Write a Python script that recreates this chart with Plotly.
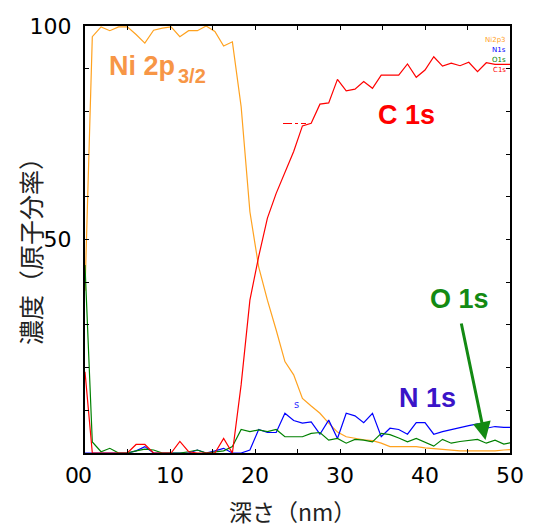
import plotly.graph_objects as go

depth = [0, 0.86, 1.89, 2.92, 3.95, 4.98, 6.01, 7.04, 8.07, 9.10, 10.13, 11.16, 12.19,
         13.22, 14.25, 15.28, 16.31, 17.34, 18.37, 19.40, 20.43, 21.46, 22.49, 23.52,
         24.55, 25.58, 26.61, 27.64, 28.67, 29.70, 30.73, 31.76, 32.79, 33.82, 34.85,
         35.88, 36.91, 37.94, 38.97, 40.00, 41.03, 42.06, 43.09, 44.12, 45.15, 46.18,
         47.21, 48.24, 49.27, 50.30]

ni2p3 = [38, 97.5, 99.8, 98.9, 99.8, 99.8, 98, 96, 99, 99.5, 99.8, 97.5, 98.9, 98.9, 100,
         98.7, 95.3, 96.3, 81.1, 56.5, 43.6, 35.8, 28.8, 21.4, 18.3, 12.8, 11, 9.3, 7.0,
         4.9, 3.8, 3.4, 3.1, 2.9, 2.3, 1.5, 1.5, 1.5, 1.5, 1.2, 1.0, 0.8, 0.7, 0.5, 0.5,
         0.5, 0.5, 0.5, 0.7, 0.8]

n1s = [0, 0, 0, 0, 0, 0, 0.5, 1.5, 0, 0, 0, 0, 0, 0.7, 0, 0.5, 1.1, 0, 0, 0.7, 5.5, 4.8,
       4.8, 9.3, 7.6, 7.0, 7.3, 4.4, 7.7, 3.4, 9.3, 8.7, 7.1, 9.3, 3.8, 5.8, 5.5, 4.4, 7.1,
       7.1, 4.4, 5.0, 5.5, 6.0, 6.4, 6.8, 5.8, 6.2, 6.0, 6.0]

o1s = [44, 2.6, 0.3, 1.1, 0, 0, 0.5, 0.9, 0.7, 0, 0, 0, 0.3, 0.7, 0, 0.3, 0.5, 1.5, 5.5,
       5.0, 5.4, 5.0, 5.5, 3.8, 3.8, 3.8, 4.6, 4.8, 3.0, 3.4, 2.3, 3.2, 3.0, 2.6, 4.6, 4.3,
       3.5, 2.6, 3.4, 2.5, 1.6, 3.2, 2.3, 2.7, 3.0, 3.2, 2.3, 3.0, 2.1, 2.5]

c1s = [19, 0, 0, 0, 0, 0, 2, 2, 0, 0, 0, 2.7, 0.3, 0, 0, 0, 3.4, 0, 16, 35.8, 46, 55, 60.8,
       65.5, 70.6, 76.6, 77.2, 81.7, 82, 87.5, 84.8, 85.2, 87, 85.4, 88.5, 88.5, 88.5,
       91.1, 88, 89.7, 92.8, 90.6, 91.3, 90.7, 91.5, 89.3, 91.4, 91, 91, 91]

series_names = ["Ni2p3", "N1s", "O1s", "C1s"]
series_vals = [ni2p3, n1s, o1s, c1s]
series_cols = ["#FFA21F", "#0000FF", "#008000", "#FF0000"]

x_ticks = [0, 10, 20, 30, 40, 50]
y_ticks = [50, 100]

# page has an 8px body margin: figure origin is at screen (8, 8)
OFF = 8
W, H = 525, 521
ML, MT = 85 - OFF, 26 - OFF
PR, PB = 510 - OFF, 453 - OFF
MR, MB = W - PR, H - PB
PW, PH = PR - ML, PB - MT


def px(xs):
    return (xs - OFF - ML) / PW


def py(ys):
    return (PB - (ys - OFF)) / PH


fig = go.Figure()
for name, vals, col in zip(series_names, series_vals, series_cols):
    fig.add_trace(go.Scatter(x=depth, y=vals, mode="lines", name=name,
                             line=dict(color=col, width=1.2), showlegend=False))

tickfont = dict(family="DejaVu Sans", size=22, color="black")
cjk = "Noto Sans CJK JP"
boldf = "Liberation Sans"

fig.update_layout(
    width=W, height=H,
    margin=dict(l=ML, r=MR, t=MT, b=MB),
    paper_bgcolor="white", plot_bgcolor="white",
    xaxis=dict(range=[0, 50], tickvals=x_ticks, ticks="inside", ticklen=4,
               tickcolor="black", showline=True, linecolor="black", linewidth=2,
               mirror="ticks", showgrid=False, zeroline=False, tickfont=tickfont,
               minor=dict(dtick=5, ticks="inside", ticklen=4, tickcolor="black"),
               ticklabelstandoff=2, automargin=False),
    yaxis=dict(range=[0, 100], tickvals=y_ticks, ticks="inside", ticklen=4,
               tickcolor="black", showline=True, linecolor="black", linewidth=2,
               mirror="ticks", showgrid=False, zeroline=False, tickfont=tickfont,
               minor=dict(dtick=10, ticks="inside", ticklen=4, tickcolor="black"),
               ticklabelstandoff=7, automargin=False),
)


def label(xs, ys, text, font, xanchor="center", **kw):
    fig.add_annotation(x=px(xs), y=py(ys), xref="paper", yref="paper", text=text,
                       showarrow=False, xanchor=xanchor, yanchor="middle",
                       font=font, **kw)


# axis titles
label(292, 511, "深さ（nm）", dict(family=cjk, size=23, color="#222"), borderpad=0)
label(30, 245, "濃度（原子分率）", dict(family=cjk, size=25, color="#222"), textangle=-90)

# extra "0" of the y axis (shown under the corner)
label(72, 475, "0", tickfont)

# labels
label(107, 66, "Ni 2p", dict(family=boldf, size=27, color="#F79646", weight="bold"),
      xanchor="left")
label(176, 76, "3/2", dict(family=boldf, size=20, color="#F79646", weight="bold"),
      xanchor="left")
label(406, 115, "C 1s", dict(family=boldf, size=27, color="#FF0000", weight="bold"))
label(459, 299, "O 1s", dict(family=boldf, size=27, color="#138A13", weight="bold"))
label(427, 398, "N 1s", dict(family=boldf, size=27, color="#3A14C8", weight="bold"))

# arrow from O 1s
fig.add_annotation(x=px(485.5), y=py(440), xref="paper", yref="paper",
                   ax=-24.5, ay=-118, text="", showarrow=True, arrowhead=2,
                   arrowsize=1.2, arrowwidth=3, arrowcolor="#138A13")

# small legend
for k, (name, col) in enumerate(zip(series_names, series_cols)):
    label(508, 40 + 10 * k, name, dict(family="DejaVu Sans", size=7, color=col),
          xanchor="right")

# stray marks in the original
label(296, 404, "s", dict(family="DejaVu Sans", size=10, color="#3333FF"))
fig.add_shape(type="line", x0=px(283), x1=px(306), y0=py(123.5), y1=py(123.5),
              xref="paper", yref="paper",
              line=dict(color="#FF0000", width=1, dash="dashdot"))

fig.write_html("out.html")
